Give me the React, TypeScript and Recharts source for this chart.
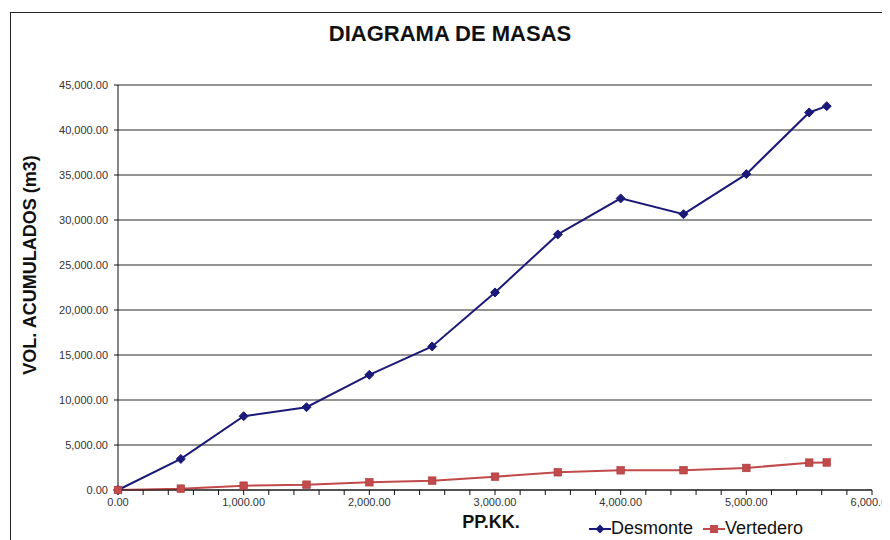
import React from 'react';
import {
	LineChart,
	Line,
	XAxis,
	YAxis,
	CartesianGrid,
	Legend,
} from 'recharts';

// progresivas (PP.KK.) and accumulated volumes
const stations = [0, 500, 1000, 1500, 2000, 2500, 3000, 3500, 4000, 4500, 5000, 5500, 5640];
const desmonte = [0, 3450, 8200, 9200, 12800, 15950, 21950, 28400, 32400, 30650, 35100, 41950, 42650];
const vertedero = [0, 150, 480, 590, 860, 1040, 1480, 1970, 2190, 2200, 2450, 3040, 3060];

const yTicks = [0, 5000, 10000, 15000, 20000, 25000, 30000, 35000, 40000, 45000];
const xTicks = Array.from({ length: 31 }, (_, i) => i * 200);

const data = stations.map((s, i) => ({
	pk: s,
	Desmonte: desmonte[i],
	Vertedero: vertedero[i],
}));

const font = 'Arial, "Liberation Sans", Helvetica, sans-serif';
const navy = '#1c1a78';
const red = '#c24a4a';

const fmt = (v: number) =>
	v.toLocaleString('en-US', { minimumFractionDigits: 2, maximumFractionDigits: 2 });

const Diamond = (props: any) => {
	const { cx, cy } = props;
	if (cx == null || cy == null) return null;
	const r = 4.5;
	return (
		<path
			d={`M${cx},${cy - r}L${cx + r},${cy}L${cx},${cy + r}L${cx - r},${cy}Z`}
			fill={navy}
			stroke={navy}
		/>
	);
};

const Square = (props: any) => {
	const { cx, cy } = props;
	if (cx == null || cy == null) return null;
	const r = 3.8;
	return <rect x={cx - r} y={cy - r} width={r * 2} height={r * 2} fill={red} stroke='#a83a3a' strokeWidth={0.6} />;
};

const LegendBox = () => (
	<div style={{ display: 'flex', alignItems: 'center', fontFamily: font, fontSize: 18, color: '#111' }}>
		<svg width={22} height={12}>
			<line x1={0} y1={6} x2={22} y2={6} stroke={navy} strokeWidth={2} />
			<path d='M11,1.5L15.5,6L11,10.5L6.5,6Z' fill={navy} />
		</svg>
		<span style={{ marginRight: 10 }}>Desmonte</span>
		<svg width={22} height={12}>
			<line x1={0} y1={6} x2={22} y2={6} stroke={red} strokeWidth={2} />
			<rect x={7} y={2} width={8} height={8} fill={red} />
		</svg>
		<span>Vertedero</span>
	</div>
);

export default function App() {
	return (
		<div style={{ position: 'relative', width: 882, height: 532 }}>
			<div
				style={{
					position: 'absolute',
					left: 2,
					top: 4,
					width: 900,
					height: 560,
					borderLeft: '1.5px solid #222',
					borderTop: '1.5px solid #222',
				}}
			/>
			<div
				style={{
					position: 'absolute',
					left: 0,
					top: 13,
					width: 884,
					textAlign: 'center',
					fontFamily: font,
					fontWeight: 'bold',
					fontSize: 22,
					color: '#111',
				}}
			>
				DIAGRAMA DE MASAS
			</div>
			<div style={{ position: 'absolute', left: 0, top: 0 }}>
				<LineChart
					width={882}
					height={532}
					data={data}
					margin={{ top: 77, right: 18, left: 0, bottom: 9 }}
				>
					<CartesianGrid vertical={false} stroke='#2a2a2a' strokeWidth={1.2} />
					<XAxis
						dataKey='pk'
						type='number'
						domain={[0, 6000]}
						ticks={xTicks}
						interval={0}
						tickFormatter={(v: number) => (v % 1000 === 0 ? fmt(v) : '')}
						height={20}
						tickSize={5}
						tickMargin={3}
						stroke='#111'
						tick={{ fill: '#333', fontSize: 11, fontFamily: font }}
						label={{
							value: 'PP.KK.',
							position: 'insideBottom',
							offset: -18,
							dx: -4,
							style: { fontFamily: font, fontWeight: 'bold', fontSize: 18, fill: '#111' },
						}}
					/>
					<YAxis
						type='number'
						domain={[0, 45000]}
						ticks={yTicks}
						interval={0}
						tickFormatter={fmt}
						width={110}
						tickSize={4}
						tickMargin={6}
						stroke='#111'
						tick={{ fill: '#333', fontSize: 11, fontFamily: font }}
						label={{
							content: () => (
								<text
									x={22}
									y={257}
									transform='rotate(-90 22 257)'
									textAnchor='middle'
									dominantBaseline='central'
									style={{ fontFamily: font, fontWeight: 'bold', fontSize: 18, fill: '#111' }}
								>
									VOL. ACUMULADOS (m3)
								</text>
							),
						}}
					/>
					<Line
						type='linear'
						dataKey='Desmonte'
						stroke={navy}
						strokeWidth={2}
						dot={<Diamond />}
						isAnimationActive={false}
					/>
					<Line
						type='linear'
						dataKey='Vertedero'
						stroke={red}
						strokeWidth={2}
						dot={<Square />}
						isAnimationActive={false}
					/>
					<Legend
						content={<LegendBox />}
						wrapperStyle={{ position: 'absolute', left: 581, top: 510, width: 240, bottom: 'auto' }}
					/>
				</LineChart>
			</div>
		</div>
	);
}
